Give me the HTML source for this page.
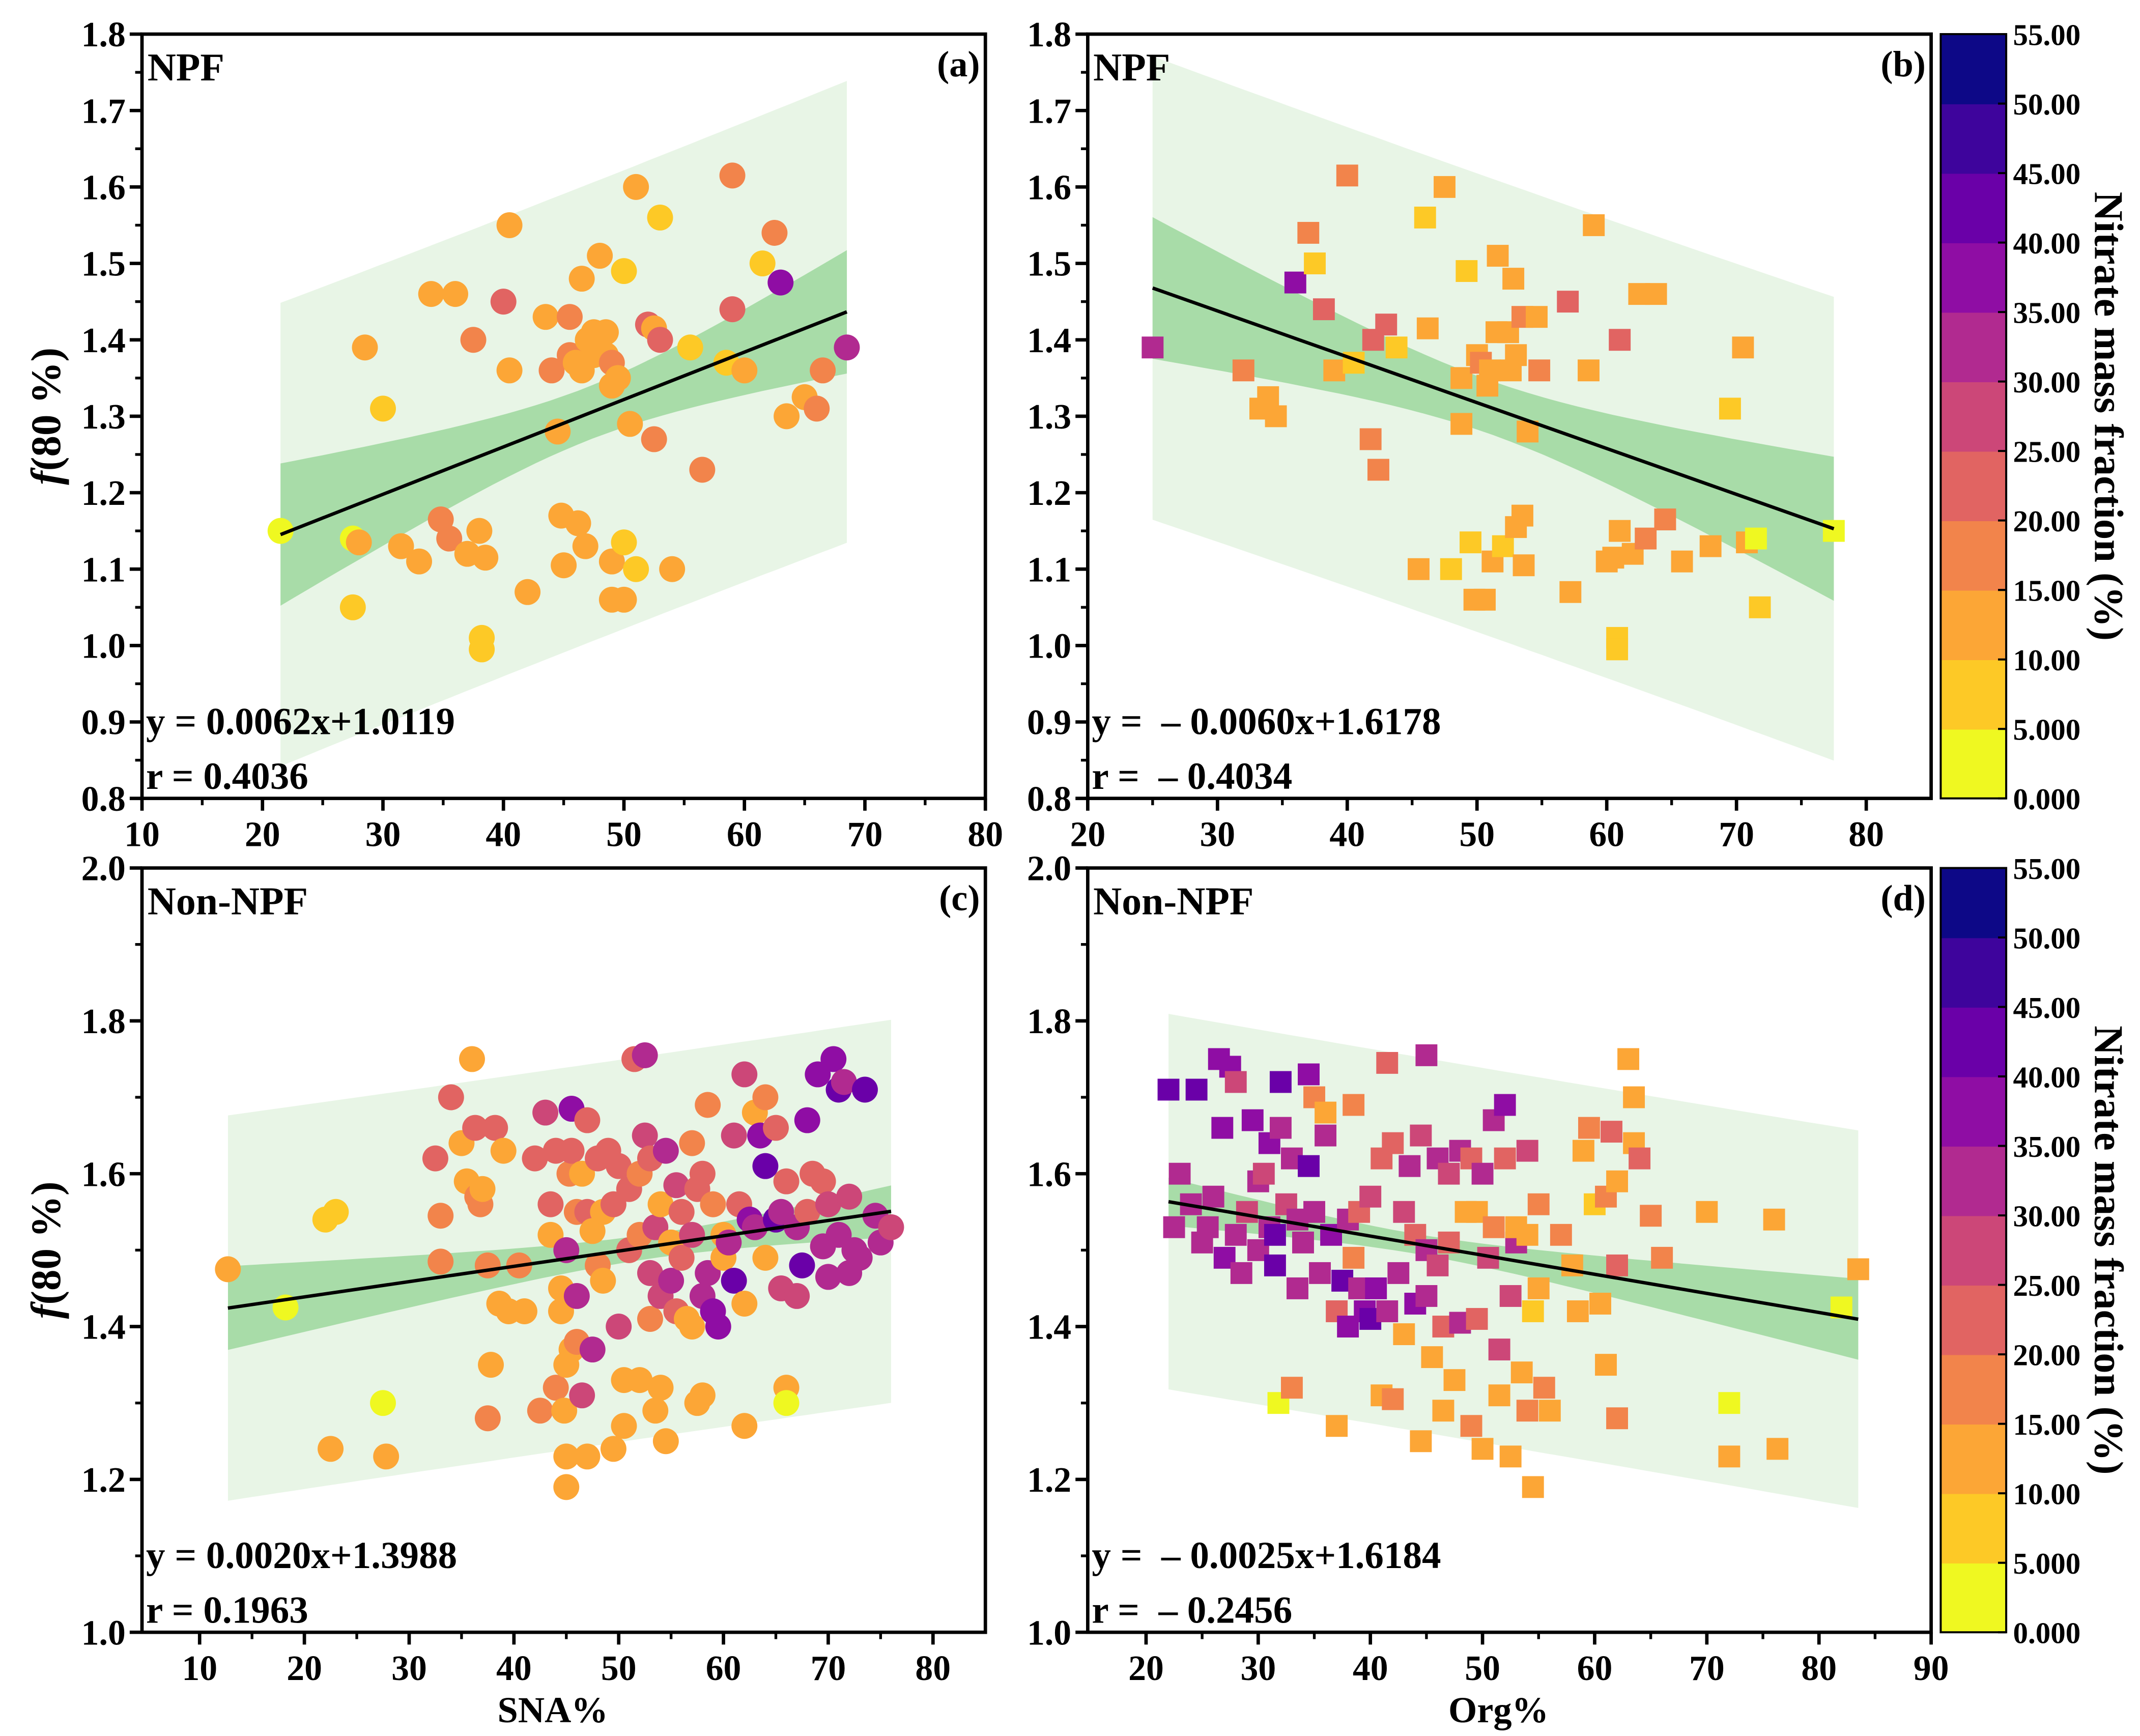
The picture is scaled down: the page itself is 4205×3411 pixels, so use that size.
<!DOCTYPE html>
<html><head><meta charset="utf-8"><style>
html,body{margin:0;padding:0;background:#fff;}
svg{display:block;font-family:"Liberation Serif",serif;font-weight:bold;}
</style></head><body>
<svg id="chart" xmlns="http://www.w3.org/2000/svg" width="4205" height="3411" viewBox="0 0 1568 1272"></svg>
<script>
// ---- data ----
const aX=[21.5,27.5,27.5,28,28.5,30,31.5,33,34,34.8,36,35.5,37,37.5,38,38.2,38.2,38.5,40,40.5,40.5,42,43.5,44,44.5,44.8,45,45.5,45.5,46,46.2,46.5,46.8,46.5,47,47.5,47.5,48,48.5,48.5,49,49,49,49,49.5,50,50,50,50.5,51,51,52,52.5,52.5,53,53,54,55.5,56.5,58.5,59,59,60,61.5,62.5,63,63.5,65,66,66.5,68.5];
const aY=[1.15,1.14,1.05,1.135,1.39,1.31,1.13,1.11,1.46,1.165,1.46,1.14,1.12,1.40,1.15,1.01,0.995,1.115,1.45,1.55,1.36,1.07,1.43,1.36,1.28,1.17,1.105,1.43,1.38,1.37,1.16,1.48,1.13,1.36,1.40,1.41,1.38,1.51,1.41,1.38,1.37,1.34,1.11,1.06,1.35,1.49,1.135,1.06,1.29,1.10,1.60,1.42,1.415,1.27,1.56,1.40,1.10,1.39,1.23,1.37,1.615,1.44,1.36,1.50,1.54,1.475,1.30,1.325,1.31,1.36,1.39];
const aN=[3,3,8,12,10,8,10,10,14,18,14,16,10,18,10,8,8,14,20,10,10,12,14,16,12,10,10,18,16,14,14,14,12,10,14,12,14,10,14,12,16,14,10,12,14,8,8,10,10,8,12,22,10,16,8,20,10,8,18,8,16,24,10,8,18,35,12,14,16,16,33];
const bX=[25,32,33.3,33.9,34.5,36,37,37.5,38.2,39,40,40.5,41.8,42,42.4,43,43.8,45.5,46,46.2,47.5,48,48.8,48.8,49.2,49.5,49.8,50,50.3,50.6,50.8,51,51.2,51.5,51.6,52,52.4,52.8,52.6,53,53,53.5,53.5,53.6,53.9,54.6,54.8,57,57.2,58.6,59,60,60.5,60.8,60.8,61,61,62,62.5,63,63.8,64.5,65.8,68,69.5,70.5,70.8,71.5,71.8,77.5];
const bY=[1.39,1.36,1.31,1.325,1.30,1.475,1.54,1.50,1.44,1.36,1.615,1.37,1.27,1.40,1.23,1.42,1.39,1.10,1.56,1.415,1.60,1.10,1.35,1.29,1.49,1.135,1.06,1.38,1.37,1.06,1.34,1.36,1.11,1.41,1.51,1.13,1.41,1.48,1.36,1.38,1.155,1.17,1.43,1.105,1.28,1.43,1.36,1.45,1.07,1.36,1.55,1.11,1.115,1.01,0.995,1.40,1.15,1.12,1.46,1.14,1.46,1.165,1.11,1.13,1.31,1.39,1.135,1.14,1.05,1.15];
const bN=[33,16,12,14,12,35,18,8,24,10,16,8,16,20,18,22,8,10,8,10,12,8,14,10,8,8,10,12,16,10,14,14,10,12,10,8,14,14,10,14,12,10,18,10,12,14,16,20,12,10,10,12,14,8,8,20,10,10,14,16,14,18,10,12,8,10,12,3,8,3];
const cX=[12.7,18.2,22,23,22.5,27.5,27.8,32.5,33,33,34,35,35.5,36,36.3,36.5,36.8,37,37.5,37.5,37.8,38.2,38.6,39,39.5,40.5,41,42,42.5,43,43.5,43.5,44,44,44.5,44.5,44.8,45,45,45,45,45.3,45.5,45.5,45.5,46,46,46,46.5,46.5,47,47,47,47.5,47.5,48,48,48.5,48.5,49,49.5,49.5,50,50,50.5,50.5,51,51,51.5,52,52,52,52.5,52.5,53,53,53,53.5,53.5,54,54,54,54.5,54.5,55,55,55.5,55.5,56,56,56.5,57,57,57,57.5,57.5,58,58,58,58.5,58.5,59,59,59.5,60,60,60.5,61,61,61.5,62,62,62,62.5,63,63,63.5,64,64,64,65,65,65.5,65.5,66,66,66,67,67,67.5,68,68,68.5,69,69.5,69.5,70,70,70.5,71,71,71.5,72,72,72.5,73,73.5,74.5,75,76];
const cY=[1.475,1.425,1.54,1.55,1.24,1.30,1.23,1.62,1.545,1.485,1.70,1.64,1.59,1.75,1.66,1.57,1.56,1.58,1.48,1.28,1.35,1.66,1.43,1.63,1.42,1.48,1.42,1.62,1.29,1.68,1.56,1.52,1.63,1.32,1.45,1.42,1.29,1.50,1.35,1.23,1.19,1.60,1.685,1.63,1.37,1.55,1.44,1.38,1.60,1.31,1.67,1.55,1.23,1.37,1.525,1.48,1.62,1.46,1.55,1.63,1.56,1.24,1.61,1.40,1.33,1.27,1.58,1.50,1.75,1.60,1.52,1.33,1.755,1.65,1.62,1.47,1.41,1.53,1.29,1.56,1.44,1.32,1.25,1.63,1.51,1.46,1.585,1.42,1.55,1.49,1.41,1.64,1.52,1.40,1.58,1.30,1.60,1.44,1.31,1.69,1.47,1.56,1.42,1.40,1.52,1.49,1.51,1.65,1.46,1.56,1.73,1.27,1.43,1.54,1.68,1.53,1.65,1.70,1.61,1.49,1.66,1.54,1.55,1.45,1.32,1.30,1.59,1.53,1.44,1.48,1.67,1.55,1.60,1.73,1.59,1.505,1.465,1.56,1.75,1.71,1.52,1.72,1.47,1.57,1.50,1.49,1.71,1.545,1.51,1.53];
const cN=[10,3,8,8,10,3,10,20,18,16,20,14,12,10,22,18,16,14,16,18,10,20,10,10,10,18,12,24,16,28,20,14,20,16,10,14,14,30,10,12,14,18,38,24,10,16,34,18,12,26,24,20,12,34,14,18,20,14,10,20,20,10,22,26,10,12,20,24,24,16,16,12,30,28,22,28,18,26,12,12,28,12,10,30,14,30,28,20,24,22,12,18,26,14,20,14,22,34,12,16,30,18,38,36,14,12,32,28,40,20,28,14,12,36,12,30,36,16,40,10,22,40,30,28,14,3,24,34,26,42,36,24,20,38,22,34,30,28,36,40,30,32,34,26,30,32,40,30,34,28];
const dX=[22,22.5,23,24,24.5,25,25.5,26,26.5,26.8,27,27.5,28,28,28.5,29,29.5,30,30,30.5,31,31,31.5,31.5,31.8,32,32,32.5,33,33,33.5,33.5,34,34.5,34.5,35,35,35.5,36,36,36.5,37,37,37.5,38,38,38.5,38.5,39,39,39.5,40,40,40.5,41,41,41.5,41.5,42,42,42.5,43,43,43.5,44,44,44.5,44.5,45,45,45,45.5,46,46,46.5,46.5,47,47,47.5,48,48,48.5,49,49,49.5,49.5,50,50,50.5,51,51,51.5,51.5,52,52,52.5,52.5,53,53,53.5,54,54,54,54.5,54.5,55,55,55.5,56,57,58,58.5,59,59.5,60,60.5,61,61,61.5,62,62,62,63,63.5,63.5,64,65,66,70,72,72,76,76.3,82,83.5];
const dY=[1.71,1.53,1.60,1.56,1.71,1.51,1.53,1.57,1.75,1.66,1.49,1.74,1.52,1.72,1.47,1.55,1.67,1.50,1.59,1.60,1.53,1.64,1.48,1.52,1.30,1.72,1.66,1.56,1.62,1.32,1.45,1.54,1.51,1.61,1.73,1.70,1.55,1.47,1.65,1.68,1.52,1.42,1.27,1.46,1.54,1.40,1.69,1.49,1.45,1.55,1.42,1.41,1.57,1.45,1.62,1.31,1.745,1.42,1.305,1.64,1.47,1.55,1.39,1.61,1.52,1.43,1.65,1.25,1.755,1.50,1.44,1.36,1.62,1.48,1.29,1.40,1.60,1.51,1.33,1.63,1.405,1.55,1.27,1.62,1.55,1.41,1.24,1.60,1.49,1.67,1.53,1.37,1.31,1.69,1.62,1.23,1.44,1.51,1.53,1.34,1.52,1.63,1.29,1.42,1.19,1.56,1.45,1.32,1.29,1.52,1.48,1.42,1.63,1.66,1.56,1.43,1.35,1.57,1.655,1.59,1.28,1.48,1.75,1.70,1.64,1.62,1.545,1.49,1.55,1.30,1.23,1.54,1.24,1.425,1.475];
const dN=[40,32,34,30,42,32,30,34,38,38,36,36,32,28,34,28,36,30,32,26,34,36,40,44,3,40,30,28,34,18,34,32,30,40,36,16,30,32,34,14,36,22,10,40,34,38,18,16,30,20,36,40,28,38,22,10,22,30,16,20,32,26,12,30,20,36,26,10,30,34,30,14,30,26,12,24,28,22,10,30,30,14,16,22,12,24,12,30,28,32,18,28,12,36,24,14,26,34,12,10,12,28,16,8,12,16,12,16,14,18,10,10,12,16,8,12,14,18,22,12,16,20,10,14,12,20,16,16,10,3,10,10,14,3,10];
const fits=[[0.0062,1.0119],[-0.0060,1.6178],[0.0020,1.3988],[-0.0025,1.6184]];
const cbTicks=["0.000","5.000","10.00","15.00","20.00","25.00","30.00","35.00","40.00","45.00","50.00","55.00"];
// ---- layout ----
const NS="http://www.w3.org/2000/svg";
const svg=document.getElementById('chart');
const cmap=["#eff821","#fdc926","#fca636","#f2844b","#e16462","#cc4778","#b12a90","#8f0da4","#6a00a8","#3e049c","#0d0887"];
function col(n){return cmap[Math.max(0,Math.min(10,Math.floor(n/5)))];}
function mk(tag,at,parent){const e=document.createElementNS(NS,tag);for(const k in at)e.setAttribute(k,at[k]);(parent||svg).appendChild(e);return e;}
function txt(s,x,y,size,anchor,parent){const t=mk('text',{x:x,y:y,'font-size':size,'text-anchor':anchor||'start',fill:'#000'},parent);t.textContent=s;return t;}
const panels=[
 {id:'a',L:104,R:722,T:25,B:585,x0:10,x1:80,y0:0.8,y1:1.8,xt:[10,20,30,40,50,60,70,80],yt:[0.8,0.9,1.0,1.1,1.2,1.3,1.4,1.5,1.6,1.7,1.8],X:aX,Y:aY,N:aN,sq:false,f:0,xm:47,c0:0.035,c1:0.00338,p0:0.30,p1:0.0017,lbl:'NPF',eq:'y = 0.0062x+1.0119',r:'r = 0.4036'},
 {id:'b',L:797,R:1415,T:25,B:585,x0:20,x1:85,y0:0.8,y1:1.8,xt:[20,30,40,50,60,70,80],yt:[0.8,0.9,1.0,1.1,1.2,1.3,1.4,1.5,1.6,1.7,1.8],X:bX,Y:bY,N:bN,sq:true,f:1,xm:51,c0:0.035,c1:0.0033,p0:0.30,p1:0.0017,lbl:'NPF',eq:'y = \u00a0\u2013 0.0060x+1.6178',r:'r = \u00a0\u2013 0.4034'},
 {id:'c',L:104,R:722,T:636,B:1196,x0:4.5,x1:85,y0:1.0,y1:2.0,xt:[10,20,30,40,50,60,70,80],yt:[1.0,1.2,1.4,1.6,1.8,2.0],minor:0.1,X:cX,Y:cY,N:cN,sq:false,f:2,xm:53,c0:0.016,c1:0.0013,p0:0.25,p1:0.0008,lbl:'Non-NPF',eq:'y = 0.0020x+1.3988',r:'r = 0.1963',xtitle:'SNA%'},
 {id:'d',L:797,R:1415,T:636,B:1196,x0:14.8,x1:90,y0:1.0,y1:2.0,xt:[20,30,40,50,60,70,80,90],yt:[1.0,1.2,1.4,1.6,1.8,2.0],minor:0.1,X:dX,Y:dY,N:dN,sq:true,f:3,xm:44,c0:0.013,c1:0.0013,p0:0.245,p1:0.0008,lbl:'Non-NPF',eq:'y = \u00a0\u2013 0.0025x+1.6184',r:'r = \u00a0\u2013 0.2456',xtitle:'Org%'}
];
const defs=mk('defs',{});
panels.forEach(p=>{
 const g=mk('g',{});
 
 
 const sx=v=>p.L+(v-p.x0)/(p.x1-p.x0)*(p.R-p.L);
 const sy=v=>p.B-(v-p.y0)/(p.y1-p.y0)*(p.B-p.T);
 const cp=mk('clipPath',{id:'clip'+p.id},defs);mk('rect',{x:p.L,y:p.T,width:p.R-p.L,height:p.B-p.T},cp);
 const pg=mk('g',{'clip-path':'url(#clip'+p.id+')'},g);
 const xa=Math.min(...p.X),xb=Math.max(...p.X);
 const [m,b]=fits[p.f];
 function band(h0,h1,name,fill){
   let up=[],lo=[];
   for(let i=0;i<=40;i++){const x=xa+(xb-xa)*i/40;const yl=m*x+b;const h=Math.sqrt(h0*h0+h1*h1*(x-p.xm)*(x-p.xm));up.push(sx(x).toFixed(1)+','+sy(yl+h).toFixed(1));lo.unshift(sx(x).toFixed(1)+','+sy(yl-h).toFixed(1));}
   const e=mk('polygon',{points:up.concat(lo).join(' '),fill:fill},pg);
   
   
 }
 band(p.p0,p.p1,'prediction-band','#e8f5e6');
 band(p.c0,p.c1,'confidence-band','#a8dca8');
 for(let i=0;i<p.X.length;i++){
   let e;
   if(p.sq){e=mk('rect',{x:sx(p.X[i])-8,y:sy(p.Y[i])-8,width:16,height:16,fill:col(p.N[i])},pg);}
   else{e=mk('circle',{cx:sx(p.X[i]),cy:sy(p.Y[i]),r:9.5,fill:col(p.N[i])},pg);}
   
   
 }
 const fl=mk('line',{x1:sx(xa),y1:sy(m*xa+b),x2:sx(xb),y2:sy(m*xb+b),stroke:'#000','stroke-width':2.5},pg);
 
 
 const fr=mk('rect',{x:p.L,y:p.T,width:p.R-p.L,height:p.B-p.T,fill:'none',stroke:'#000','stroke-width':2.5},g);
 
 
 p.xt.forEach((v,i)=>{
   mk('line',{x1:sx(v),y1:p.B,x2:sx(v),y2:p.B+9,stroke:'#000','stroke-width':2.5},g);
   if(i<p.xt.length-1){const mv=v+5;if(mv<p.x1)mk('line',{x1:sx(mv),y1:p.B,x2:sx(mv),y2:p.B+5,stroke:'#000','stroke-width':2},g);}
   const t=txt(String(v),sx(v),p.B+35,26,'middle',g);
   
   
 });
 p.yt.forEach((v,i)=>{
   mk('line',{x1:p.L-9,y1:sy(v),x2:p.L,y2:sy(v),stroke:'#000','stroke-width':2.5},g);
   const step=p.minor?0.1:0.05;
   if(i<p.yt.length-1)mk('line',{x1:p.L-5,y1:sy(v+step),x2:p.L,y2:sy(v+step),stroke:'#000','stroke-width':2},g);
   const t=txt(v.toFixed(1),p.L-12,sy(v)+9,26,'end',g);
   
   
 });
 let t=txt(p.lbl,p.L+4,p.T+34,29,'start',g);
 
 
 t=txt('('+p.id+')',p.R-4,p.T+31,27,'end',g);
 
 
 t=txt(p.eq,p.L+3,p.B-47,28,'start',g);
 
 
 t=txt(p.r,p.L+3,p.B-7,28,'start',g);
 
 
 if(p.xtitle){t=txt(p.xtitle,(p.L+p.R)/2-8,1262,27,'middle',g);
   
   }
 if(p.id==='a'||p.id==='c'){
   const yt=mk('text',{transform:'translate(44,'+((p.T+p.B)/2)+') rotate(-90)','font-size':31,'text-anchor':'middle'},g);
   
   
   const ts=mk('tspan',{'font-style':'italic'},yt);ts.textContent='f';
   const ts2=mk('tspan',{},yt);ts2.textContent='(80 %)';
 }
 if(p.id==='b'||p.id==='d'){
   const cb=mk('g',{},svg);
   
   
   const L=1422,W=48,h=(p.B-p.T)/11;
   for(let k=0;k<11;k++)mk('rect',{x:L,y:p.B-(k+1)*h,width:W,height:h+0.5,fill:cmap[k]},cb);
   mk('rect',{x:L,y:p.T,width:W,height:p.B-p.T,fill:'none',stroke:'#000','stroke-width':1.5},cb);
   cbTicks.forEach((s,k)=>{const y=p.B-k*(p.B-p.T)/11;
     mk('line',{x1:L+W-6,y1:y,x2:L+W,y2:y,stroke:'#000','stroke-width':1.5},cb);
     const tt=txt(s,L+W+5,y+8,22,'start',cb);
     
     });
   const ct=mk('text',{transform:'translate(1535,'+((p.T+p.B)/2)+') rotate(90)','font-size':30,'text-anchor':'middle'},cb);
   ct.textContent='Nitrate mass fraction (%)';
   
   
 }
});
</script>
</body></html>
